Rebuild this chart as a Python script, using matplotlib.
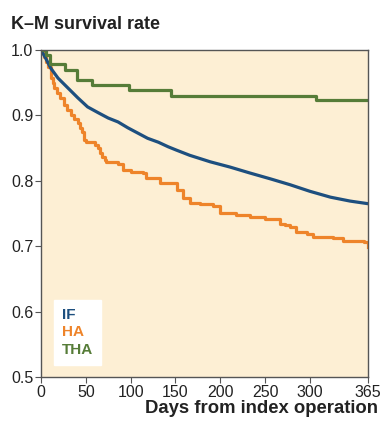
import numpy as np
import matplotlib.pyplot as plt

plt.rcParams['font.family'] = ['Liberation Sans', 'DejaVu Sans']

# Kaplan-Meier curves (days, survival)
if_days = [0, 5, 11, 19, 30, 41, 52, 64, 75, 86, 97, 108, 119, 131, 142, 151, 166, 189,
           211, 233, 256, 278, 300, 323, 345, 365]
if_surv = [1.0, 0.988, 0.972, 0.957, 0.942, 0.927, 0.913, 0.904, 0.896, 0.890, 0.881,
           0.873, 0.865, 0.859, 0.852, 0.847, 0.839, 0.829, 0.821, 0.812, 0.803, 0.794,
           0.784, 0.775, 0.769, 0.765]

ha_days = [0, 3, 6, 8, 11, 13, 15, 18, 21, 26, 29, 33, 37, 41, 44, 46, 48, 50, 60, 64,
           66, 68, 71, 73, 86, 92, 100, 114, 117, 129, 133, 148, 152, 159, 166, 177, 192,
           200, 218, 233, 250, 267, 272, 278, 285, 297, 304, 326, 337, 360, 365]
ha_surv = [1.0, 0.99, 0.982, 0.974, 0.957, 0.95, 0.942, 0.935, 0.927, 0.916, 0.909,
           0.901, 0.895, 0.888, 0.88, 0.875, 0.862, 0.859, 0.855, 0.85, 0.843, 0.836, 0.832,
           0.829, 0.826, 0.817, 0.814, 0.812, 0.805, 0.805, 0.797, 0.797, 0.786, 0.774,
           0.766, 0.764, 0.761, 0.751, 0.748, 0.744, 0.741, 0.734, 0.732, 0.730, 0.722,
           0.719, 0.714, 0.713, 0.708, 0.706, 0.699]

tha_days = [0, 6, 10, 27, 40, 57, 98, 145, 307, 365]
tha_surv = [1.0, 0.992, 0.978, 0.969, 0.954, 0.946, 0.939, 0.930, 0.923, 0.923]

xticks = [0, 50, 100, 150, 200, 250, 300, 365]
yticks = [0.5, 0.6, 0.7, 0.8, 0.9, 1.0]

c_if = '#1d4f7f'
c_ha = '#ee842a'
c_tha = '#567c38'

fig = plt.figure(figsize=(3.81, 4.22), dpi=100)
ax = fig.add_axes([0.1076, 0.1066, 0.8584, 0.7749])
ax.set_facecolor('#fdefd4')

ax.step(ha_days, ha_surv, where='post', color=c_ha, lw=2.3, label='HA')
ax.plot(if_days, if_surv, color=c_if, lw=2.3, label='IF')
ax.step(tha_days, tha_surv, where='post', color=c_tha, lw=2.3, label='THA')

ax.set_xlim(0, 365)
ax.set_ylim(0.5, 1.0)
ax.set_xticks(xticks)
ax.set_yticks(yticks)
ax.set_yticklabels(['%.1f' % v for v in yticks])
ax.tick_params(labelsize=11.5, length=4, color='#555555', pad=1.5, labelcolor='#222222')
for s in ax.spines.values():
    s.set_color('#555555')
    s.set_linewidth(1.0)

fig.text(0.028, 0.932, 'K\u2013M survival rate', fontsize=13, fontweight='bold',
         color='#222222', ha='left', va='baseline')
fig.text(0.992, 0.022, 'Days from index operation', fontsize=13.3, fontweight='bold',
         color='#222222', ha='right', va='baseline')

h, l = ax.get_legend_handles_labels()
order = [1, 0, 2]
leg = ax.legend([h[i] for i in order], [l[i] for i in order], loc='lower left',
                bbox_to_anchor=(0.04, 0.037), borderaxespad=0, handlelength=0,
                handletextpad=0, labelcolor='linecolor', frameon=True, fancybox=False,
                borderpad=0.5, labelspacing=0.25, prop={'weight': 'bold', 'size': 11})
leg.get_frame().set_facecolor('white')
leg.get_frame().set_edgecolor('white')
leg.get_frame().set_alpha(1)
for hd in leg.legend_handles:
    hd.set_visible(False)

fig.savefig('out.png', dpi=100)
